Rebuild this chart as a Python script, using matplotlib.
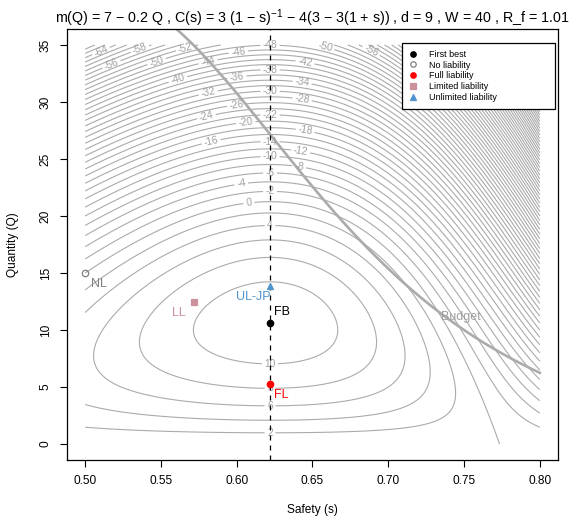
import numpy as np
import matplotlib
matplotlib.use("Agg")
import matplotlib.pyplot as plt

plt.rcParams['font.family'] = ['Liberation Sans', 'DejaVu Sans']
plt.rcParams['mathtext.default'] = 'regular'

# model parameters (title of the chart)
m0, m1 = 7, 0.2          # m(Q) = 7 - 0.2 Q
d = 9
W = 40
s_lo, s_hi = 0.5, 0.8
q_lo, q_hi = 0.001, 35
levels = np.arange(-164, 12, 2)

# contour labels as placed in the reference: level, s, Q
lab_level = [-64, -58, -52, -46, -48, -50, -56, -56, -50, -44, -42, -40, -38,
             -36, -34, -32, -30, -28, -26, -24, -22, -20, -18, -16, -14, -12,
             -10, -8, -6, -4, -2, 0, 4, 10, 8, 6, 2]
lab_s = [0.510, 0.536, 0.566, 0.601, 0.622, 0.658, 0.688, 0.517, 0.547, 0.581,
         0.645, 0.561, 0.622, 0.600, 0.643, 0.581, 0.622, 0.643, 0.600, 0.580,
         0.622, 0.606, 0.645, 0.583, 0.622, 0.642, 0.622, 0.641, 0.622, 0.603,
         0.622, 0.608, 0.622, 0.622, 0.622, 0.622, 0.622]
lab_q = [34.6, 34.7, 34.8, 34.4, 34.95, 34.66, 34.3, 33.45, 33.6, 33.6, 33.4,
         32.1, 32.7, 32.2, 31.6, 30.9, 30.9, 30.1, 29.7, 28.75, 28.75, 28.2,
         27.3, 26.6, 26.4, 25.45, 25.1, 24.2, 23.7, 22.8, 22.0, 21.2, 19.0,
         7.2, 4.9, 3.4, 1.0]

# equilibria
s_fb = 0.622
pt_s = [0.622, 0.500, 0.622, 0.572, 0.622]
pt_q = [10.6, 15.0, 5.3, 12.45, 13.9]
pt_name = ['First best', 'No liability', 'Full liability', 'Limited liability',
           'Unlimited liability']
pt_short = ['FB', 'NL', 'FL', 'LL', 'UL-JP']
pt_col = ['black', 'grey', 'red', '#CD919E', '#4F94CD']
pt_mark = ['o', 'o', 'o', 's', '^']
txt_s = [0.6297, 0.5092, 0.6297, 0.562, 0.611]
txt_q = [11.56, 14.07, 4.27, 11.5, 12.86]
txt_col = ['black', 'grey', 'red', '#CD919E', '#4F94CD']


def cost(s):
    return 3 / (1 - s) - 12 * s + 1


def welfare(s, q):
    return m0 * q - m1 / 2 * q ** 2 - q * (cost(s) + d * (1 - s))


fig = plt.figure(figsize=(5.75, 5.2), dpi=100)
ax = fig.add_axes([0.1165, 0.1154, 0.8539, 0.8288])

ss = np.linspace(s_lo, s_hi, 500)
qq = np.linspace(q_lo, q_hi, 500)
S, Q = np.meshgrid(ss, qq)
Z = welfare(S, Q)

line_col = '#ababab'
labelled = sorted(set(lab_level))
plain = [l for l in levels if l not in labelled]
ax.contour(S, Q, Z, levels=plain, colors=line_col, linewidths=0.8,
           negative_linestyles='solid')
for lev in labelled:
    pos = [(s, q) for l, s, q in zip(lab_level, lab_s, lab_q) if l == lev]
    cs = ax.contour(S, Q, Z, levels=[lev], colors=line_col, linewidths=0.8,
                    negative_linestyles='solid')
    ax.clabel(cs, manual=pos, fontsize=7.4, colors='#a0a0a0',
              fmt=lambda v: f"{v:g}", inline_spacing=3)

# budget constraint
ax.plot(ss, W / cost(ss), color='#ababab', lw=1.9)
ax.text(0.748, 11.1, 'Budget', color='#a0a0a0', fontsize=9, ha='center', va='center')

ax.axvline(s_fb, color='black', ls=(0, (4, 4)), lw=0.9, zorder=4)

for i in range(len(pt_s)):
    face = 'none' if pt_short[i] == 'NL' else pt_col[i]
    ax.plot(pt_s[i], pt_q[i], marker=pt_mark[i], color=pt_col[i], mfc=face,
            ms=4.6, mew=0.9, ls='none', zorder=5, label=pt_name[i])
    ax.text(txt_s[i], txt_q[i], pt_short[i], color=txt_col[i], fontsize=9,
            ha='center', va='center', zorder=5)

leg = ax.legend(loc='upper left', bbox_to_anchor=(0.682, 0.8144, 0.312, 0.153),
                mode='expand', fontsize=6.5, handlelength=1.0, handletextpad=1.3,
                borderpad=0.75, labelspacing=0.2, fancybox=False, framealpha=1,
                edgecolor='black', markerscale=0.85, borderaxespad=0)
leg.get_frame().set_linewidth(0.9)

ax.set_xlim(0.488, 0.812)
ax.set_ylim(-1.4, 36.4)
ax.set_xticks(np.arange(0.5, 0.801, 0.05))
ax.set_xticklabels([f"{v:.2f}" for v in np.arange(0.5, 0.801, 0.05)])
ax.set_yticks(np.arange(0, 36, 5))
ax.tick_params(direction='out', length=5, width=0.8, labelsize=8.6, pad=6)
for lab in ax.get_yticklabels():
    lab.set_rotation(90)
    lab.set_va('center')
for sp in ax.spines.values():
    sp.set_linewidth(0.9)

ax.set_xlabel('Safety (s)', fontsize=8.6)
ax.set_ylabel('Quantity (Q)', fontsize=8.6)
ax.xaxis.set_label_coords(0.5, -0.101)
ax.yaxis.set_label_coords(-0.097, 0.5)

ax.set_title(r"m(Q) = 7 − 0.2 Q , C(s) = 3 (1 − s)$^{-1}$ − 4(3 − 3(1 + s)) , "
             r"d = 9 , W = 40 , R_f = 1.01", fontsize=10.3, pad=3)

fig.savefig('out.png', dpi=100)
